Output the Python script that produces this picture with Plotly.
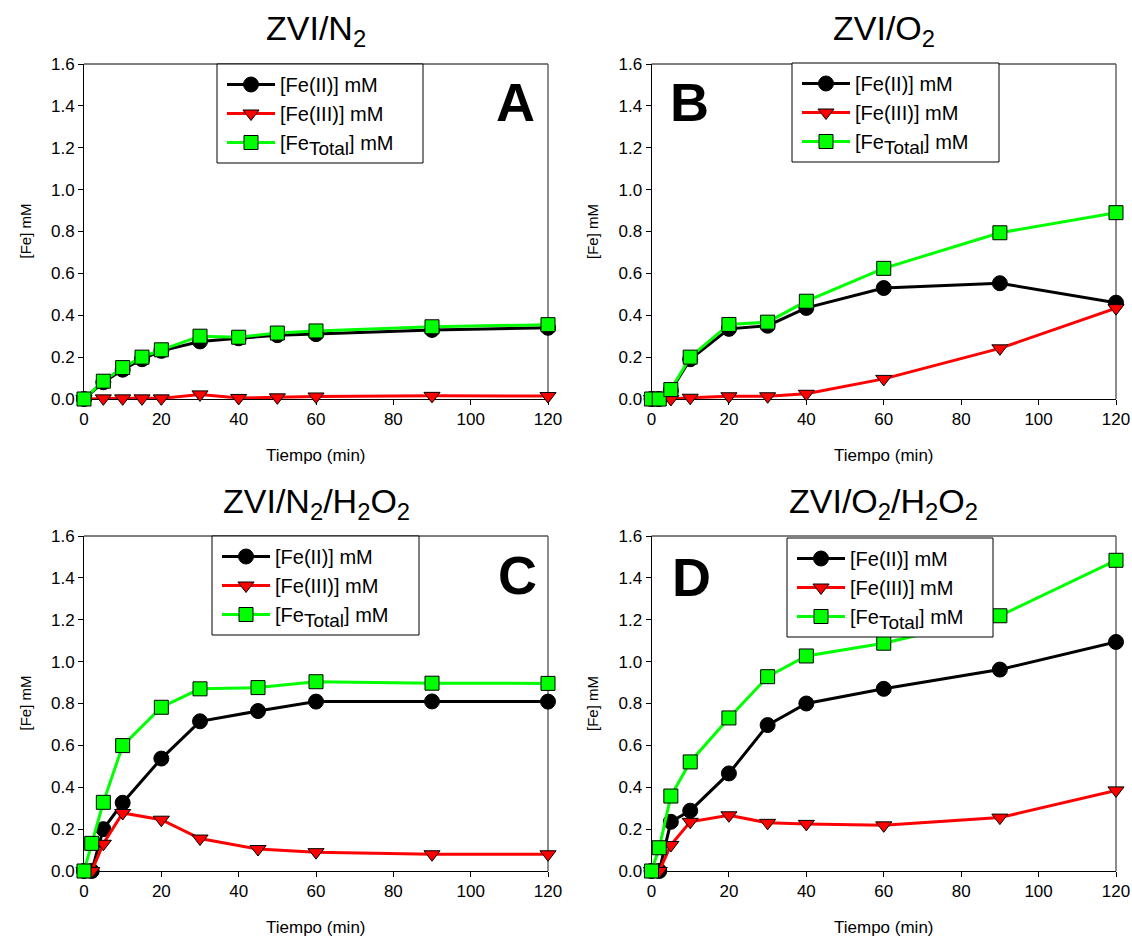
import plotly.graph_objects as go

# Sampling times (min) for each experiment
t_A = [0, 5, 10, 15, 20, 30, 40, 50, 60, 90, 120]
t_B = [0, 2, 5, 10, 20, 30, 40, 60, 90, 120]
t_C = [0, 2, 5, 10, 20, 30, 45, 60, 90, 120]
t_D = [0, 2, 5, 10, 20, 30, 40, 60, 90, 120]

# ZVI/N2
fe2_A = [0.0, 0.08, 0.14, 0.19, 0.23, 0.275, 0.29, 0.305, 0.31, 0.33, 0.34]
fe3_A = [0.0, 0.003, 0.003, 0.003, 0.003, 0.022, 0.005, 0.008, 0.012, 0.015, 0.014]
feT_A = [0.0, 0.085, 0.15, 0.20, 0.235, 0.30, 0.295, 0.315, 0.325, 0.345, 0.355]

# ZVI/O2
fe2_B = [0.0, 0.0, 0.04, 0.19, 0.335, 0.35, 0.435, 0.53, 0.553, 0.46]
fe3_B = [0.0, 0.0, 0.0, 0.006, 0.013, 0.013, 0.025, 0.096, 0.242, 0.434]
feT_B = [0.0, 0.0, 0.045, 0.20, 0.356, 0.367, 0.467, 0.624, 0.794, 0.89]

# ZVI/N2/H2O2
fe2_C = [0.0, 0.0, 0.20, 0.326, 0.537, 0.715, 0.764, 0.809, 0.81, 0.809]
fe3_C = [0.0, 0.0, 0.13, 0.277, 0.245, 0.155, 0.105, 0.09, 0.08, 0.08]
feT_C = [0.0, 0.132, 0.328, 0.599, 0.782, 0.87, 0.876, 0.904, 0.897, 0.896]

# ZVI/O2/H2O2
fe2_D = [0.0, 0.0, 0.235, 0.288, 0.466, 0.697, 0.80, 0.87, 0.962, 1.094]
fe3_D = [0.0, 0.0, 0.124, 0.235, 0.266, 0.23, 0.225, 0.218, 0.255, 0.385]
feT_D = [0.0, 0.111, 0.358, 0.521, 0.731, 0.928, 1.027, 1.088, 1.219, 1.484]

panel_titles = ["ZVI/N<sub>2</sub>", "ZVI/O<sub>2</sub>",
                "ZVI/N<sub>2</sub>/H<sub>2</sub>O<sub>2</sub>",
                "ZVI/O<sub>2</sub>/H<sub>2</sub>O<sub>2</sub>"]
panel_letters = ["A", "B", "C", "D"]
series_names = ["[Fe(II)] mM", "[Fe(III)] mM",
                "[Fe<sub><span style='font-size:19px'>Total</span></sub>] mM"]
x_ticks = [0, 20, 40, 60, 80, 100, 120]
y_ticks = [0.0, 0.2, 0.4, 0.6, 0.8, 1.0, 1.2, 1.4, 1.6]

W, H = 1132, 936
FONT = "Liberation Sans, Arial, sans-serif"

# pixel frames of the four plot areas: (left, right, top, bottom)
frames = [(84, 548, 64, 399), (651.5, 1116, 64, 399),
          (84, 548, 536, 871), (651.5, 1116, 536, 871)]
# legend boxes: (left, top, right, bottom)
legend_boxes = [(217, 64, 423, 163), (792, 63, 999, 162),
                (212, 536, 419, 635), (787, 538, 993, 637)]
letter_pos = [(515, 102), (689, 102), (517, 575), (691, 577)]

panels = [
    (t_A, fe2_A, fe3_A, feT_A),
    (t_B, fe2_B, fe3_B, feT_B),
    (t_C, fe2_C, fe3_C, feT_C),
    (t_D, fe2_D, fe3_D, feT_D),
]

styles = [
    dict(line=dict(color="black", width=3),
         marker=dict(symbol="circle", size=15, color="black",
                     line=dict(color="black", width=1))),
    dict(line=dict(color="#FF0000", width=3),
         marker=dict(symbol="triangle-down", size=14, color="#FF0000",
                     line=dict(color="black", width=1))),
    dict(line=dict(color="#00FF00", width=3),
         marker=dict(symbol="square", size=14, color="#00FF00",
                     line=dict(color="black", width=1))),
]


def px(x):
    return x / W


def py(y):
    return 1 - y / H


fig = go.Figure()
annotations = []
shapes = []

for i, (t, fe2, fe3, feT) in enumerate(panels):
    n = i + 1
    xa = "x" if n == 1 else f"x{n}"
    ya = "y" if n == 1 else f"y{n}"
    leg = "legend" if n == 1 else f"legend{n}"
    for name, vals, st in zip(series_names, (fe2, fe3, feT), styles):
        fig.add_trace(go.Scatter(
            x=t, y=vals, name=name, mode="lines+markers",
            xaxis=xa, yaxis=ya, legend=leg, cliponaxis=False,
            line=st["line"], marker=st["marker"]))

    l, r, tp, b = frames[i]
    axis_common = dict(showgrid=False, zeroline=False, showline=True,
                       linecolor="black", linewidth=1, ticks="outside",
                       ticklen=5, tickwidth=1, tickcolor="black",
                       layer="below traces", automargin=False,
                       tickfont=dict(family=FONT, size=17, color="black"))
    fig.layout[f"xaxis{'' if n == 1 else n}"] = dict(
        axis_common, domain=[px(l), px(r)], range=[0, 120],
        tickvals=x_ticks, anchor=ya, mirror=False)
    fig.layout[f"yaxis{'' if n == 1 else n}"] = dict(
        axis_common, domain=[py(b), py(tp)], range=[0, 1.6],
        tickvals=y_ticks, tickformat=".1f", anchor=xa, mirror=False)

    # top (black) and right (grey) borders of the frame
    shapes.append(dict(type="line", xref="paper", yref="paper",
                       x0=px(l), x1=px(r), y0=py(tp), y1=py(tp),
                       line=dict(color="black", width=1), layer="below"))
    shapes.append(dict(type="line", xref="paper", yref="paper",
                       x0=px(r), x1=px(r), y0=py(tp), y1=py(b),
                       line=dict(color="#666666", width=1.5), layer="below"))

    cx = (l + r) / 2
    annotations.append(dict(text=panel_titles[i], x=px(cx), y=py(tp - 33),
                            xref="paper", yref="paper", showarrow=False,
                            xanchor="center", yanchor="middle",
                            font=dict(family=FONT, size=34, color="black")))
    annotations.append(dict(text="Tiempo (min)", x=px(cx), y=py(b + 56),
                            xref="paper", yref="paper", showarrow=False,
                            xanchor="center", yanchor="middle",
                            font=dict(family=FONT, size=17, color="black")))
    annotations.append(dict(text="[Fe] mM", x=px(l - 59), y=py((tp + b) / 2),
                            xref="paper", yref="paper", showarrow=False,
                            textangle=-90, xanchor="center", yanchor="middle",
                            font=dict(family=FONT, size=15, color="black")))
    lx, ly = letter_pos[i]
    annotations.append(dict(text="<b>%s</b>" % panel_letters[i], x=px(lx), y=py(ly),
                            xref="paper", yref="paper", showarrow=False,
                            xanchor="center", yanchor="middle",
                            font=dict(family=FONT, size=54, color="black")))

    # legend frame, drawn over the curves; the entries sit on top of it
    gl, gt, gr, gb = legend_boxes[i]
    shapes.append(dict(type="rect", xref="paper", yref="paper",
                       x0=px(gl), x1=px(gr), y0=py(gb), y1=py(gt),
                       fillcolor="white", line=dict(color="black", width=1),
                       layer="above"))
    fig.layout[leg] = dict(x=px(gl + 5), y=py(gt + 1), xanchor="left", yanchor="top",
                           bgcolor="rgba(0,0,0,0)", borderwidth=0,
                           font=dict(family=FONT, size=20, color="black"),
                           itemwidth=48, tracegroupgap=0)

fig.update_layout(width=W, height=H, margin=dict(l=0, r=0, t=0, b=0),
                  paper_bgcolor="white", plot_bgcolor="white",
                  annotations=annotations, shapes=shapes, showlegend=True)

fig.write_html("out.html")
